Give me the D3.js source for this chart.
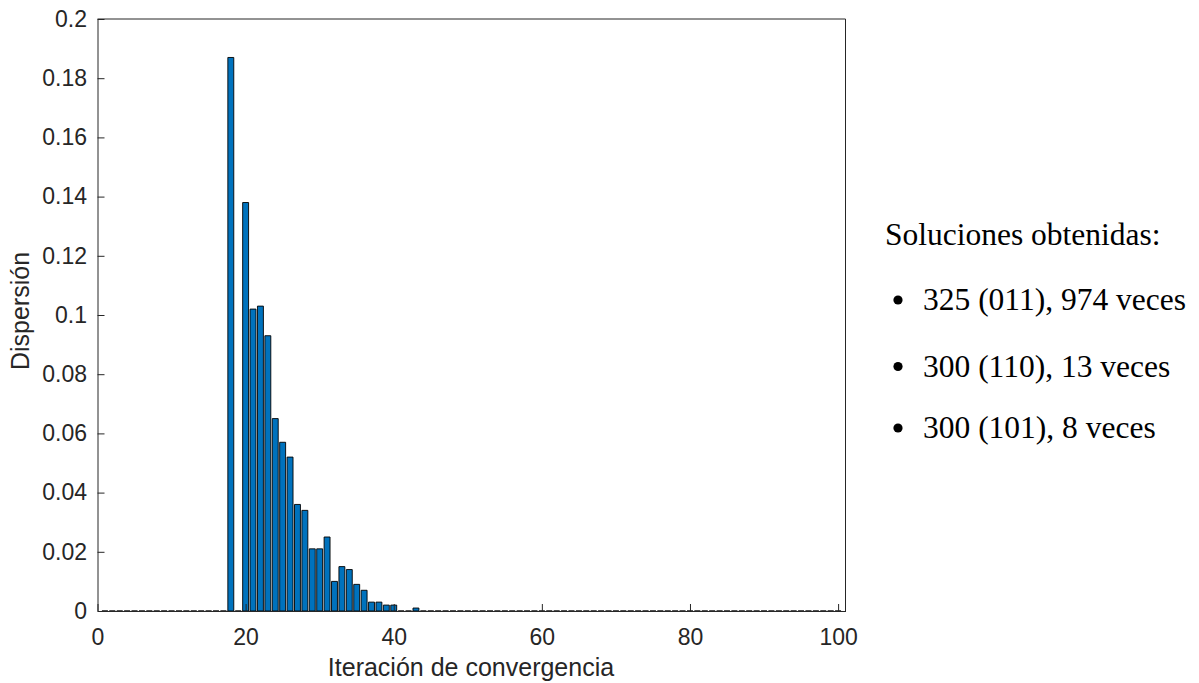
<!DOCTYPE html>
<html>
<head>
<meta charset="utf-8">
<script src="https://cdn.jsdelivr.net/npm/d3@7/dist/d3.min.js"></script>
<style>
  html, body { margin: 0; padding: 0; background: #fff; }
  svg { display: block; }
</style>
</head>
<body>
<svg id="chart" width="1199" height="683"></svg>
<script>
// ---- data ----
const iterations = d3.range(1, 101);
const dispersion = [
  0, 0, 0, 0, 0, 0, 0, 0, 0, 0,
  0, 0, 0, 0, 0, 0, 0, 0.187, 0, 0.138,
  0.102, 0.103, 0.093, 0.065, 0.057, 0.052, 0.036, 0.034, 0.021, 0.021,
  0.025, 0.010, 0.015, 0.014, 0.009, 0.007, 0.003, 0.003, 0.002, 0.002,
  0, 0, 0.001, 0, 0, 0, 0, 0, 0, 0,
  0, 0, 0, 0, 0, 0, 0, 0, 0, 0,
  0, 0, 0, 0, 0, 0, 0, 0, 0, 0,
  0, 0, 0, 0, 0, 0, 0, 0, 0, 0,
  0, 0, 0, 0, 0, 0, 0, 0, 0, 0,
  0, 0, 0, 0, 0, 0, 0, 0, 0, 0
];
const xTicks = [0, 20, 40, 60, 80, 100];
const yTicks = [0, 0.02, 0.04, 0.06, 0.08, 0.1, 0.12, 0.14, 0.16, 0.18, 0.2];
const xLabel = "Iteración de convergencia";
const yLabel = "Dispersión";
const legendTitle = "Soluciones obtenidas:";
const legendItems = ["325 (011), 974 veces", "300 (110), 13 veces", "300 (101), 8 veces"];

// ---- layout ----
const svg = d3.select("#chart");
const L = 97.5, R = 845.5, T = 19, B = 611;
const x = d3.scaleLinear().domain([0, 101]).range([L, R]);
const y = d3.scaleLinear().domain([0, 0.2]).range([B, T]);
const axisColor = "#262626";
const barW = 0.8;

// bars
const bars = iterations.map((it, i) => ({ it, v: dispersion[i] }));
svg.append("g").selectAll("path").data(bars).join("path")
  .attr("d", d => {
    const x0 = x(d.it - barW / 2), x1 = x(d.it + barW / 2);
    const y0 = y(0), y1 = y(d.v);
    return `M${x0},${y0}V${y1}H${x1}V${y0}Z`;
  })
  .attr("fill", "#0072BD")
  .attr("stroke", "#000")
  .attr("stroke-width", 0.9);

// axes
const fontSans = "Arial, 'Liberation Sans', Helvetica, sans-serif";
const gx = svg.append("g").attr("transform", `translate(0,${B})`)
  .call(d3.axisBottom(x).tickValues(xTicks).tickSizeInner(-7).tickSizeOuter(0).tickPadding(18).tickFormat(d3.format("d")));
const gy = svg.append("g").attr("transform", `translate(${L},0)`)
  .call(d3.axisLeft(y).tickValues(yTicks).tickSizeInner(-7).tickSizeOuter(0).tickPadding(10.5).tickFormat(d => d === 0 ? "0" : String(+d.toFixed(2))));
[gx, gy].forEach(g => {
  g.select(".domain").attr("stroke", axisColor).attr("stroke-width", 1);
  g.selectAll(".tick line").attr("stroke", axisColor).attr("stroke-width", 1);
  g.selectAll(".tick text").attr("fill", axisColor).attr("font-family", fontSans).attr("font-size", 23);
});
// box top and right
svg.append("path").attr("d", `M${L},${T}H${R}V${B}`).attr("fill", "none")
  .attr("stroke", axisColor).attr("stroke-width", 1);

// axis labels
svg.append("text").attr("x", 471).attr("y", 676).attr("text-anchor", "middle")
  .attr("font-family", fontSans).attr("font-size", 25).attr("fill", axisColor).text(xLabel);
svg.append("text").attr("transform", `translate(28.5,311) rotate(-90)`).attr("text-anchor", "middle")
  .attr("font-family", fontSans).attr("font-size", 25).attr("fill", axisColor).text(yLabel);

// legend text
const fontSerif = "'Liberation Serif', 'Times New Roman', serif";
svg.append("text").attr("x", 885).attr("y", 245).attr("font-family", fontSerif)
  .attr("font-size", 31.5).attr("fill", "#000").text(legendTitle);
const rows = [310, 376.5, 438];
legendItems.forEach((t, i) => {
  svg.append("circle").attr("cx", 898).attr("cy", rows[i] - 10).attr("r", 4.6).attr("fill", "#000");
  svg.append("text").attr("x", 923).attr("y", rows[i]).attr("font-family", fontSerif)
    .attr("font-size", 31.5).attr("fill", "#000").text(t);
});
</script>
</body>
</html>
